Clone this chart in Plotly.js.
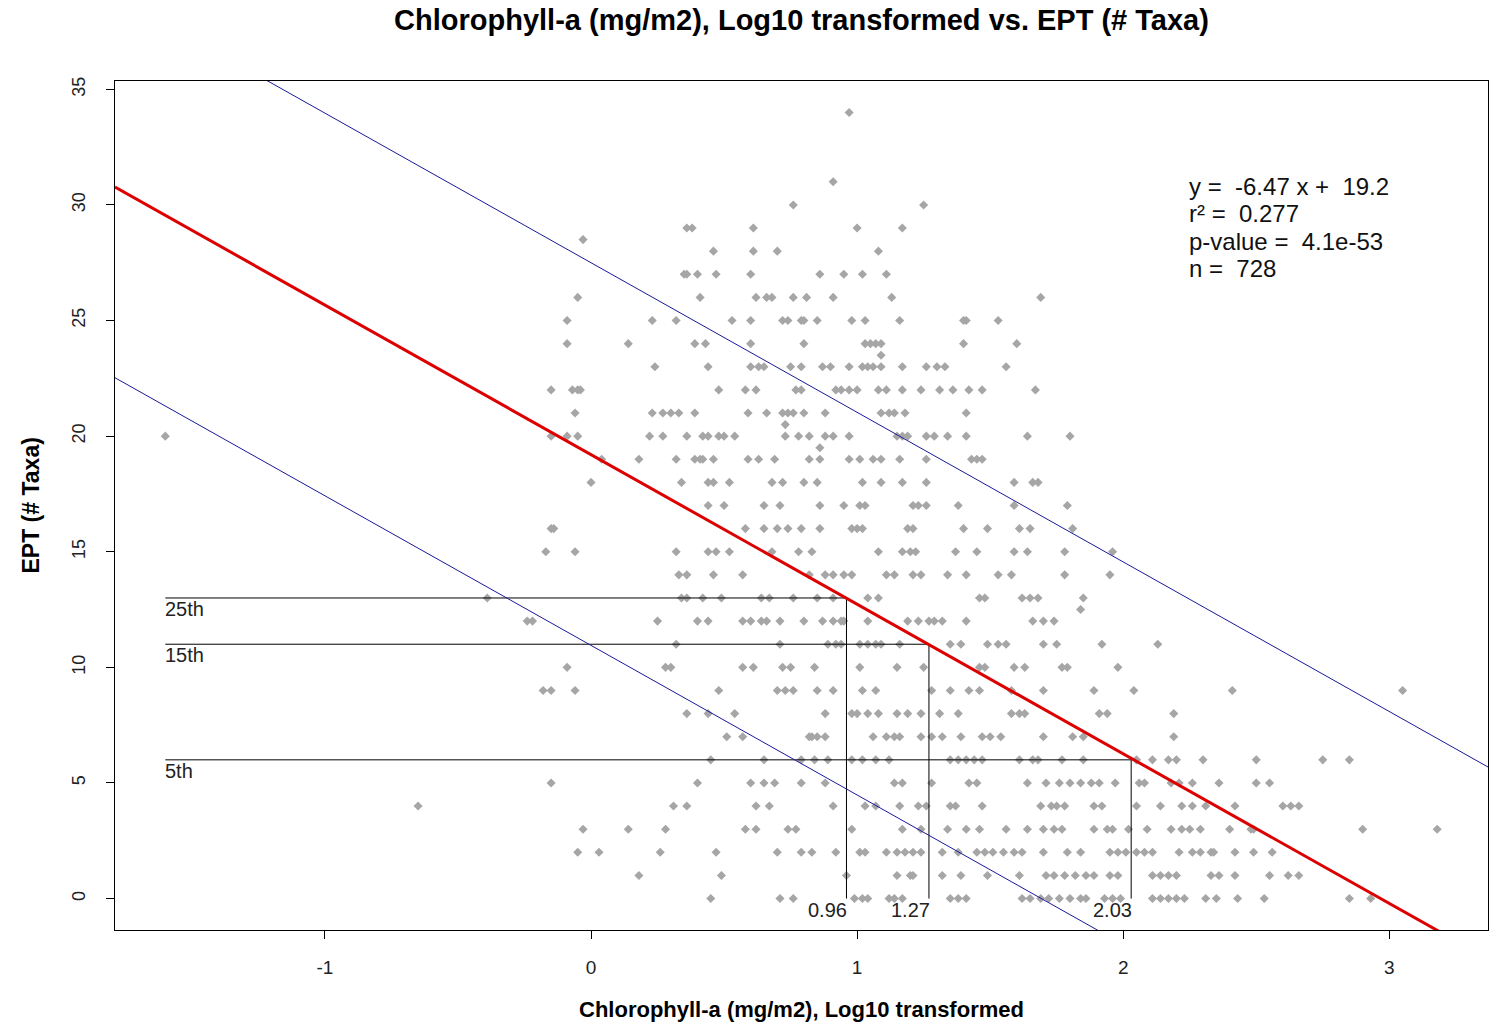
<!DOCTYPE html>
<html>
<head>
<meta charset="utf-8">
<script src="https://cdn.plot.ly/plotly-3.0.1.min.js"></script>
<style>
  html, body { margin: 0; padding: 0; background: #ffffff; }
  #chart { width: 1499px; height: 1024px; }
</style>
</head>
<body>
<div id="chart"></div>
<script>
// EPT taxa count levels and the log10 chlorophyll-a values observed at each level
const eptLevels = [34, 31, 30, 29, 28.5, 28, 27, 26, 25, 24, 23.5, 23, 22, 21, 20.5, 20, 19.5, 19, 18, 17, 16, 15, 14, 13, 12.5, 12, 11, 10, 9, 8, 7, 6, 5, 4, 3, 2, 1, 0];
const chlByLevel = [
  [0.97],
  [0.91],
  [0.76, 1.25],
  [0.36, 0.38, 0.61, 1.00, 1.17],
  [-0.03],
  [0.46, 0.61, 0.70, 1.08],
  [0.35, 0.36, 0.40, 0.47, 0.60, 0.86, 0.95, 1.02, 1.11],
  [-0.05, 0.41, 0.62, 0.66, 0.68, 0.76, 0.81, 0.91, 1.13, 1.69],
  [-0.09, 0.23, 0.32, 0.53, 0.60, 0.72, 0.74, 0.79, 0.80, 0.85, 0.98, 1.03, 1.16, 1.40, 1.41, 1.53],
  [-0.09, 0.14, 0.39, 0.43, 0.60, 0.80, 1.03, 1.05, 1.07, 1.09, 1.40, 1.60],
  [1.09],
  [0.24, 0.44, 0.60, 0.63, 0.65, 0.75, 0.79, 0.87, 0.90, 0.97, 1.02, 1.04, 1.06, 1.09, 1.17, 1.26, 1.30, 1.33, 1.56],
  [-0.15, -0.07, -0.05, -0.04, 0.48, 0.58, 0.62, 0.77, 0.79, 0.92, 0.94, 0.97, 1.00, 1.08, 1.11, 1.17, 1.24, 1.31, 1.36, 1.42, 1.47, 1.67],
  [-0.06, 0.23, 0.27, 0.30, 0.33, 0.39, 0.59, 0.66, 0.72, 0.74, 0.76, 0.80, 0.88, 1.09, 1.12, 1.14, 1.18, 1.41],
  [0.73],
  [-1.60, -0.15, -0.09, -0.05, 0.22, 0.27, 0.36, 0.42, 0.44, 0.48, 0.50, 0.54, 0.73, 0.78, 0.82, 0.88, 0.91, 0.97, 1.15, 1.17, 1.19, 1.26, 1.29, 1.34, 1.41, 1.64, 1.80],
  [0.86],
  [0.04, 0.18, 0.32, 0.39, 0.41, 0.42, 0.46, 0.59, 0.63, 0.69, 0.82, 0.86, 0.97, 1.01, 1.06, 1.09, 1.16, 1.26, 1.43, 1.45, 1.47],
  [0.00, 0.34, 0.44, 0.46, 0.52, 0.68, 0.72, 0.80, 0.85, 1.02, 1.09, 1.17, 1.26, 1.59, 1.66, 1.68],
  [0.44, 0.50, 0.65, 0.71, 0.86, 0.95, 1.01, 1.03, 1.21, 1.23, 1.26, 1.38, 1.59, 1.79],
  [-0.15, -0.14, 0.58, 0.65, 0.70, 0.74, 0.79, 0.86, 0.98, 1.00, 1.02, 1.19, 1.21, 1.40, 1.49, 1.61, 1.65, 1.81],
  [-0.17, -0.06, 0.32, 0.44, 0.47, 0.52, 0.68, 0.78, 0.83, 1.08, 1.17, 1.20, 1.22, 1.37, 1.45, 1.59, 1.64, 1.78, 1.96],
  [0.33, 0.36, 0.46, 0.57, 0.82, 0.88, 0.91, 0.95, 0.98, 1.11, 1.14, 1.21, 1.24, 1.34, 1.41, 1.53, 1.58, 1.78, 1.95],
  [-0.39, 0.34, 0.36, 0.42, 0.49, 0.64, 0.67, 0.76, 0.85, 0.91, 1.04, 1.08, 1.46, 1.48, 1.62, 1.65, 1.68, 1.85],
  [1.84],
  [-0.24, -0.22, 0.25, 0.40, 0.44, 0.57, 0.60, 0.64, 0.66, 0.71, 0.80, 0.87, 0.91, 0.94, 0.95, 1.04, 1.19, 1.23, 1.27, 1.29, 1.32, 1.41, 1.66, 1.70, 1.74],
  [0.32, 0.71, 0.89, 0.92, 0.94, 1.01, 1.04, 1.07, 1.09, 1.16, 1.35, 1.39, 1.49, 1.53, 1.56, 1.70, 1.75, 1.92, 2.13],
  [-0.09, 0.28, 0.30, 0.57, 0.61, 0.72, 0.75, 0.84, 1.01, 1.15, 1.25, 1.46, 1.48, 1.59, 1.63, 1.77, 1.79, 1.98],
  [-0.18, -0.15, -0.06, 0.48, 0.70, 0.73, 0.76, 0.85, 0.91, 1.02, 1.07, 1.28, 1.35, 1.42, 1.46, 1.58, 1.70, 1.89, 2.04, 2.41, 3.05],
  [0.36, 0.44, 0.54, 0.88, 0.98, 1.00, 1.04, 1.08, 1.15, 1.19, 1.24, 1.31, 1.38, 1.58, 1.61, 1.63, 1.91, 1.94, 2.19],
  [0.51, 0.57, 0.82, 0.83, 0.85, 0.88, 1.06, 1.11, 1.14, 1.16, 1.24, 1.28, 1.32, 1.39, 1.47, 1.50, 1.54, 1.70, 1.81, 1.85, 2.19],
  [0.45, 0.65, 0.79, 0.84, 0.89, 0.98, 1.02, 1.07, 1.12, 1.35, 1.38, 1.41, 1.44, 1.47, 1.61, 1.66, 1.68, 1.77, 1.85, 2.05, 2.11, 2.17, 2.20, 2.30, 2.50, 2.75, 2.85],
  [-0.15, 0.40, 0.60, 0.65, 0.69, 0.79, 0.88, 1.14, 1.17, 1.28, 1.42, 1.45, 1.64, 1.71, 1.76, 1.80, 1.84, 1.88, 1.91, 1.97, 2.06, 2.08, 2.18, 2.21, 2.26, 2.36, 2.50, 2.55],
  [-0.65, 0.31, 0.36, 0.62, 0.67, 0.91, 1.03, 1.07, 1.16, 1.23, 1.26, 1.35, 1.37, 1.47, 1.69, 1.73, 1.75, 1.78, 1.89, 1.92, 2.05, 2.14, 2.22, 2.26, 2.31, 2.42, 2.60, 2.63, 2.66],
  [-0.03, 0.14, 0.28, 0.58, 0.62, 0.74, 0.77, 0.98, 1.17, 1.24, 1.34, 1.41, 1.46, 1.56, 1.64, 1.70, 1.74, 1.77, 1.89, 1.94, 1.96, 2.02, 2.09, 2.18, 2.22, 2.25, 2.29, 2.40, 2.48, 2.49, 2.90, 3.18],
  [-0.05, 0.03, 0.26, 0.47, 0.70, 0.79, 0.83, 0.92, 1.01, 1.03, 1.11, 1.15, 1.18, 1.21, 1.24, 1.32, 1.38, 1.45, 1.48, 1.51, 1.55, 1.59, 1.62, 1.70, 1.79, 1.84, 1.95, 1.98, 2.01, 2.05, 2.08, 2.11, 2.21, 2.26, 2.29, 2.33, 2.34, 2.42, 2.49, 2.56],
  [0.18, 0.49, 0.96, 1.15, 1.20, 1.21, 1.32, 1.39, 1.49, 1.61, 1.71, 1.74, 1.78, 1.82, 1.86, 1.89, 1.95, 1.98, 2.11, 2.14, 2.17, 2.20, 2.33, 2.36, 2.42, 2.55, 2.62, 2.66],
  [0.45, 0.71, 0.76, 0.99, 1.02, 1.04, 1.12, 1.14, 1.17, 1.35, 1.38, 1.41, 1.62, 1.65, 1.69, 1.72, 1.76, 1.80, 1.84, 1.86, 1.93, 1.96, 1.99, 2.11, 2.14, 2.17, 2.20, 2.23, 2.31, 2.35, 2.43, 2.53, 2.85, 2.93]
];

// Fitted line and its upper / lower bounds (same slope)
const fitSlope = -6.47;
const fitIntercept = 19.2;
const upperIntercept = 27.5;
const lowerIntercept = 10.95;

// Percentile thresholds: EPT level and the chlorophyll value where the fit reaches it
const pctLabels = ["25th", "15th", "5th"];
const pctEpt = [13, 11, 6];
const pctChl = [0.96, 1.27, 2.03];
const pctStartChl = -1.6;

// Statistics box
const statLines = ["y =  -6.47 x +  19.2", "r\u00b2 =  0.277", "p-value =  4.1e-53", "n =  728"];

const xRange = [-1.789, 3.371];
const yRange = [-1.36, 35.36];
const xTicks = [-1, 0, 1, 2, 3];
const yTicks = [0, 5, 10, 15, 20, 25, 30, 35];

const FONT = "Liberation Sans, Arial, Helvetica, sans-serif";

const ptsX = [], ptsY = [];
eptLevels.forEach((lvl, i) => {
  chlByLevel[i].forEach(v => { ptsX.push(v); ptsY.push(lvl); });
});

function lineTrace(intercept, color, width) {
  return {
    x: xRange.slice(),
    y: xRange.map(v => intercept + fitSlope * v),
    mode: "lines",
    line: { color: color, width: width },
    hoverinfo: "skip",
    showlegend: false
  };
}

const traces = [
  {
    x: ptsX, y: ptsY,
    mode: "markers",
    type: "scatter",
    marker: { symbol: "diamond", size: 7, color: "#a6a6a6", line: { width: 0 } },
    showlegend: false
  }
];

pctEpt.forEach((lvl, i) => {
  traces.push({
    x: [pctStartChl, pctChl[i], pctChl[i]],
    y: [lvl, lvl, 0],
    mode: "lines",
    line: { color: "#000000", width: 1 },
    hoverinfo: "skip",
    showlegend: false
  });
});

traces.push(lineTrace(upperIntercept, "#1a1a9a", 1));
traces.push(lineTrace(lowerIntercept, "#1a1a9a", 1));
traces.push(lineTrace(fitIntercept, "#dd0000", 3));

const annotations = [];
pctEpt.forEach((lvl, i) => {
  annotations.push({
    x: pctStartChl, y: lvl, xref: "x", yref: "y",
    text: pctLabels[i], showarrow: false,
    xanchor: "left", yanchor: "top", yshift: 2, xshift: -2,
    font: { family: FONT, size: 20, color: "#222" }
  });
  annotations.push({
    x: pctChl[i], y: 0, xref: "x", yref: "y",
    text: pctChl[i].toFixed(2), showarrow: false,
    xanchor: "right", yanchor: "top", yshift: 2, xshift: 3,
    font: { family: FONT, size: 20, color: "#222" }
  });
});

statLines.forEach((t, i) => {
  annotations.push({
    x: 2.252, y: 1, xref: "x", yref: "paper",
    yshift: -(186 - 81) - i * 27.5, xshift: -3,
    text: t.replace(/ /g, "\u00a0"), showarrow: false,
    xanchor: "left", yanchor: "middle",
    font: { family: FONT, size: 24, color: "#111" }
  });
});

// Axis titles
annotations.push({
  x: 0.5, y: 0, xref: "paper", yref: "paper", yshift: -79,
  text: "<b>Chlorophyll-a (mg/m2), Log10 transformed</b>", showarrow: false,
  xanchor: "center", yanchor: "middle",
  font: { family: FONT, size: 22, color: "#000" }
});
annotations.push({
  x: 0, y: 0.5, xref: "paper", yref: "paper", xshift: -85,
  text: "<b>EPT (# Taxa)</b>", showarrow: false, textangle: -90,
  xanchor: "center", yanchor: "middle",
  font: { family: FONT, size: 23, color: "#000" }
});

const layout = {
  width: 1499, height: 1024,
  margin: { l: 115, r: 11, t: 81, b: 94, pad: 0 },
  paper_bgcolor: "#ffffff", plot_bgcolor: "#ffffff",
  font: { family: FONT, color: "#000" },
  title: {
    text: "<b>Chlorophyll-a (mg/m2), Log10 transformed vs. EPT (# Taxa)</b>",
    x: 0.5, xref: "paper", xanchor: "center",
    y: 1 - 20 / 1024, yref: "container", yanchor: "middle",
    font: { family: FONT, size: 29, color: "#000" }
  },
  xaxis: {
    range: xRange, tickvals: xTicks, ticktext: xTicks.map(String),
    ticks: "outside", ticklen: 8, tickwidth: 1, tickcolor: "#000",
    showline: true, mirror: true, linecolor: "#000", linewidth: 1,
    showgrid: false, zeroline: false,
    ticklabelstandoff: 12,
    tickfont: { family: FONT, size: 19, color: "#222" }
  },
  yaxis: {
    range: yRange, tickvals: yTicks, ticktext: yTicks.map(String),
    ticks: "outside", ticklen: 8, tickwidth: 1, tickcolor: "#000",
    showline: true, mirror: true, linecolor: "#000", linewidth: 1,
    showgrid: false, zeroline: false, tickangle: -90,
    ticklabelstandoff: 14,
    tickfont: { family: FONT, size: 18, color: "#222" }
  },
  annotations: annotations,
  showlegend: false
};

Plotly.newPlot("chart", traces, layout, { displayModeBar: false, staticPlot: true });
</script>
</body>
</html>
